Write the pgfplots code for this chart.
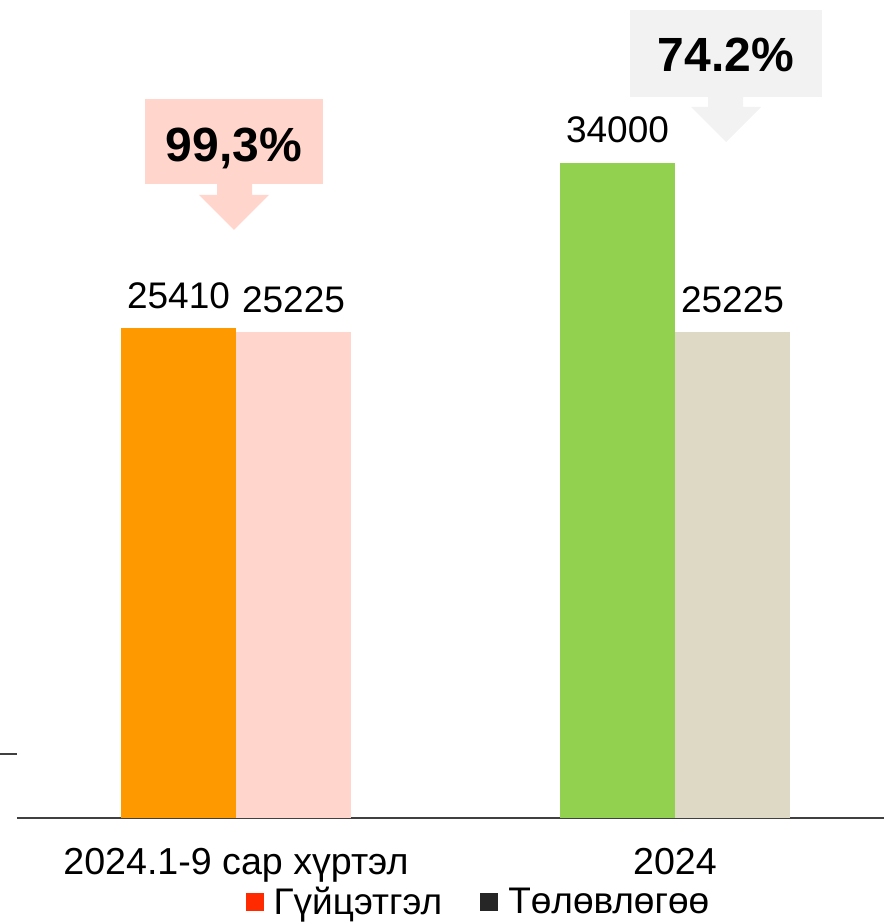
\documentclass[border=0pt]{standalone}
\usepackage{fontspec}
\setmainfont{Liberation Sans}
\usepackage{pgfplots}
\pgfplotsset{compat=1.18}
\definecolor{cOrange}{HTML}{FF9900}
\definecolor{cPink}{HTML}{FFD5CC}
\definecolor{cGreen}{HTML}{92D050}
\definecolor{cBeige}{HTML}{DDD9C4}
\definecolor{cGreyBox}{HTML}{F2F2F2}
\definecolor{cLegRed}{HTML}{FF2A00}
\definecolor{cLegDark}{HTML}{262626}
\definecolor{cAxis}{HTML}{404040}
\begin{document}
\begin{tikzpicture}
\begin{axis}[
  scale only axis, width=433.5pt, height=409pt,
  at={(0pt,0pt)}, anchor=south west,
  xmin=-0.49886, xmax=1.47608, ymin=0, ymax=42461,
  enlargelimits=false, clip=false,
  axis y line=none, axis x line*=bottom,
  x axis line style={line width=1pt, draw=cAxis},
  xtick={0,1}, xticklabels={2024.1-9 сар хүртэл, 2024},
  major tick length=0pt, ytick=\empty,
  xticklabel style={font=\fontsize{18.8}{22}\selectfont, text=black, yshift=-11.5pt},
  bar width=0.262,
  point meta=explicit symbolic,
  every node near coord/.append style={font=\fontsize{18.5}{22}\selectfont, anchor=base, yshift=10pt, text=black, inner sep=0pt},
  legend style={at={(0.5334,-0.1027)}, anchor=center, draw=none, fill=none,
    font=\fontsize{18.5}{22}\selectfont, inner sep=0pt,
    /tikz/every even column/.append style={column sep=17pt}},
  legend columns=2,
  legend image code/.code={\fill[#1] (0pt,-4.5pt) rectangle (9pt,4.5pt); \path (12pt,0pt);},
]
\addplot[ybar, bar shift=0pt, fill=cOrange, draw=none, forget plot, nodes near coords] coordinates {(-0.131,25410) [25410]};
\addplot[ybar, bar shift=0pt, fill=cPink, draw=none, forget plot, nodes near coords] coordinates {(0.131,25225) [25225]};
\addplot[ybar, bar shift=0pt, fill=cGreen, draw=none, forget plot, nodes near coords] coordinates {(0.869,34000) [34000]};
\addplot[ybar, bar shift=0pt, fill=cBeige, draw=none, forget plot, nodes near coords] coordinates {(1.131,25225) [25225]};
\addlegendimage{fill=cLegRed, draw=none}
\addlegendentry{Гүйцэтгэл}
\addlegendimage{fill=cLegDark, draw=none}
\addlegendentry{Төлөвлөгөө}
\end{axis}
\begin{scope}[x=0.5pt, y=-0.5pt, shift={(-8.5pt,409pt)}]
  % left stub
  \draw[line width=1pt, cAxis] (0,754) -- (17,754);
  % pink callout
  \fill[cPink] (145,99) rectangle (323,184);
  \fill[cPink] (217,183) -- (252,183) -- (252,195) -- (269,195) -- (234,230) -- (199,195) -- (217,195) -- cycle;
  \node[anchor=base, inner sep=0pt, font=\fontsize{24}{28}\selectfont\bfseries] at (234,162) {99,3\%};
  % grey callout
  \fill[cGreyBox] (630,10) rectangle (822,97);
  \fill[cGreyBox] (708,96) -- (743,96) -- (743,107) -- (761,107) -- (726,142) -- (691,107) -- (708,107) -- cycle;
  \node[anchor=base, inner sep=0pt, font=\fontsize{24}{28}\selectfont\bfseries] at (726,72) {74.2\%};
  \pgfresetboundingbox
  \path[use as bounding box] (0,0) rectangle (884,923);
\end{scope}
\end{tikzpicture}
\end{document}
